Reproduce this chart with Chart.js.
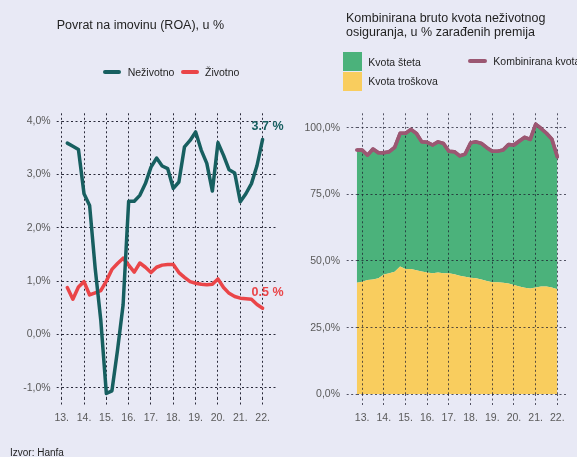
<!DOCTYPE html>
<html>
<head>
<meta charset="utf-8">
<script src="https://cdn.jsdelivr.net/npm/chart.js@4.4.1/dist/chart.umd.min.js"></script>
<style>
  html, body { margin: 0; padding: 0; background: #e8e9f5; }
  #wrap { position: relative; width: 577px; height: 457px; overflow: hidden; background: #e8e9f5;
          font-family: "Liberation Sans", Arial, sans-serif; color: #1f1f1f; }
  canvas { position: absolute; left: 0; top: 0; }
  .t { position: absolute; white-space: nowrap; }
  .title { font-size: 12.5px; line-height: 14px; }
  .leg { font-size: 10.5px; line-height: 12px; }
  .sw { position: absolute; }
</style>
</head>
<body>
<div id="wrap">
  <canvas id="c1" width="577" height="457"></canvas>
  <canvas id="c2" width="577" height="457"></canvas>

  <div class="t title" style="left:56.7px; top:18px;">Povrat na imovinu (ROA), u %</div>
  <div class="sw" style="left:102.7px; top:69.7px; width:18px; height:4px; border-radius:2px; background:#175f60;"></div>
  <div class="t leg" style="left:127.7px; top:65.7px;">Neživotno</div>
  <div class="sw" style="left:180.5px; top:69.7px; width:18px; height:4px; border-radius:2px; background:#ea4548;"></div>
  <div class="t leg" style="left:205px; top:65.7px;">Životno</div>

  <div class="t title" style="left:346px; top:11.3px;">Kombinirana bruto kvota neživotnog<br>osiguranja, u % zarađenih premija</div>
  <div class="sw" style="left:342.7px; top:51.7px; width:19px; height:19px; background:#4bb27b;"></div>
  <div class="t leg" style="left:368.3px; top:55.7px;">Kvota šteta</div>
  <div class="sw" style="left:342.7px; top:71.7px; width:19px; height:19px; background:#f9cd5e;"></div>
  <div class="t leg" style="left:368.3px; top:75px;">Kvota troškova</div>
  <div class="sw" style="left:467.7px; top:59px; width:19px; height:4px; border-radius:2px; background:#9b5772;"></div>
  <div class="t leg" style="left:493.3px; top:55px;">Kombinirana kvota</div>

  <div class="t" style="left:10px; top:447px; font-size:10px; line-height:12px;">Izvor: Hanfa</div>
</div>

<script>
// ---------- DATA ----------
const roaPeriods = ['2013Q2','2013Q3','2013Q4','2014Q1','2014Q2','2014Q3','2014Q4','2015Q1','2015Q2','2015Q3','2015Q4',
  '2016Q1','2016Q2','2016Q3','2016Q4','2017Q1','2017Q2','2017Q3','2017Q4','2018Q1','2018Q2','2018Q3','2018Q4',
  '2019Q1','2019Q2','2019Q3','2019Q4','2020Q1','2020Q2','2020Q3','2020Q4','2021Q1','2021Q2','2021Q3','2021Q4','2022Q1'];
const roaNonLife = [3.59,3.53,3.47,2.64,2.42,1.24,0.27,-1.11,-1.06,-0.30,0.55,2.50,2.50,2.61,2.83,3.14,3.31,3.16,3.11,2.74,
  2.86,3.52,3.64,3.80,3.46,3.21,2.69,3.60,3.36,3.09,3.03,2.49,2.64,2.83,3.17,3.66];
const roaLife = [0.88,0.66,0.89,0.99,0.74,0.78,0.82,1.00,1.22,1.33,1.43,1.30,1.17,1.34,1.26,1.16,1.26,1.30,1.31,1.31,
  1.16,1.07,0.99,0.96,0.94,0.93,0.94,1.04,0.88,0.77,0.71,0.68,0.67,0.66,0.56,0.49];
const roaYTicks = [-1, 0, 1, 2, 3, 4];

const ratioPeriods = ['2012Q4','2013Q1','2013Q2','2013Q3','2013Q4','2014Q1','2014Q2','2014Q3','2014Q4','2015Q1','2015Q2',
  '2015Q3','2015Q4','2016Q1','2016Q2','2016Q3','2016Q4','2017Q1','2017Q2','2017Q3','2017Q4','2018Q1','2018Q2','2018Q3',
  '2018Q4','2019Q1','2019Q2','2019Q3','2019Q4','2020Q1','2020Q2','2020Q3','2020Q4','2021Q1','2021Q2','2021Q3','2021Q4','2022Q1'];
const expenseRatio = [41.8,42.2,42.9,43.1,43.5,44.9,45.4,46.0,47.9,47.0,47.0,46.5,46.1,45.7,45.4,45.7,45.4,45.4,45.0,44.5,
  44.1,43.7,43.5,43.1,42.5,42.0,42.0,41.8,41.6,41.0,40.4,40.0,39.7,40.1,40.4,40.4,40.1,39.4];
const lossRatio = [49.8,49.4,46.8,48.9,47.1,45.7,45.6,46.6,50.0,50.9,52.4,51.4,48.6,48.8,48.1,49.0,48.7,45.8,46.0,44.9,
  46.0,50.6,51.2,51.0,50.0,49.2,49.2,49.8,52.1,52.5,54.6,56.4,55.9,61.2,59.3,57.5,55.6,49.7];
const combinedRatio = [91.6,91.6,89.7,92.0,90.6,90.6,91.0,92.6,97.9,97.9,99.4,97.9,94.7,94.5,93.5,94.7,94.1,91.2,91.0,89.4,
  90.1,94.3,94.7,94.1,92.5,91.2,91.2,91.6,93.7,93.5,95.0,96.4,95.6,101.3,99.7,97.9,95.7,89.1];
const ratioYTicks = [0, 25, 50, 75, 100];
const yearTicks = [13, 14, 15, 16, 17, 18, 19, 20, 21, 22];

// ---------- HELPERS ----------
const periodToX = p => (parseInt(p.slice(0, 4), 10) - 2000) + (parseInt(p.slice(5), 10) - 1) / 4;
const pts = (periods, vals) => periods.map((p, i) => ({ x: periodToX(p), y: vals[i] }));
const fmtPct = v => v.toFixed(1).replace('.', ',') + '%';
const keepTicks = list => scale => {
  scale.ticks = list.map(v => ({ value: v }));
};
const FONT = '"Liberation Sans", Arial, sans-serif';
const tickFont = { family: FONT, size: 10.5 };
const TICK_COLOR = '#5a5a5a';

const endLabels = {
  id: 'endLabels',
  afterDatasetsDraw(chart, args, opts) {
    const ctx = chart.ctx;
    chart.data.datasets.forEach((ds, i) => {
      const cfg = (opts.items || {})[i];
      if (!cfg) return;
      const meta = chart.getDatasetMeta(i);
      const pt = meta.data[meta.data.length - 1];
      const v = ds.data[ds.data.length - 1].y;
      ctx.save();
      ctx.font = 'bold 12.5px ' + FONT;
      ctx.fillStyle = ds.borderColor;
      ctx.textAlign = 'left';
      ctx.textBaseline = 'middle';
      ctx.fillText(v.toFixed(1) + ' %', pt.x + cfg.dx, pt.y + cfg.dy);
      ctx.restore();
    });
  }
};

// redraw the combined-ratio line above the grid that sits on top of the areas
const lineOnTop = {
  id: 'lineOnTop',
  afterDraw(chart) {
    const meta = chart.getDatasetMeta(0);
    if (meta && meta.dataset) {
      chart.ctx.save();
      meta.dataset.draw(chart.ctx, chart.chartArea);
      chart.ctx.restore();
    }
  }
};

Chart.defaults.font.family = FONT;
Chart.defaults.animation = false;

// ---------- LEFT CHART: ROA ----------
new Chart(document.getElementById('c1'), {
  type: 'line',
  data: {
    datasets: [
      { label: 'Neživotno', data: pts(roaPeriods, roaNonLife), borderColor: '#175f60', borderWidth: 3.5,
        pointRadius: 0, tension: 0, borderJoinStyle: 'round', borderCapStyle: 'round' },
      { label: 'Životno', data: pts(roaPeriods, roaLife), borderColor: '#ea4548', borderWidth: 3.5,
        pointRadius: 0, tension: 0, borderJoinStyle: 'round', borderCapStyle: 'round' }
    ]
  },
  plugins: [endLabels],
  options: {
    responsive: false,
    animation: false,
    layout: { padding: { left: 0, right: 301, top: 113.3, bottom: 0 } },
    plugins: {
      legend: { display: false }, tooltip: { enabled: false }, title: { display: false },
      endLabels: { items: { 0: { dx: -11, dy: -13.3 }, 1: { dx: -11, dy: -15.6 } } }
    },
    scales: {
      x: {
        type: 'linear', min: 13, max: 22.6,
        afterBuildTicks: keepTicks(yearTicks),
        afterFit: s => { s.height = 58.7; },
        ticks: { callback: v => v + '.', color: TICK_COLOR, font: tickFont, padding: 6, maxRotation: 0, autoSkip: false },
        grid: { color: '#2a2a3a', lineWidth: 1, tickLength: 8, tickBorderDash: [2, 2.5], drawTicks: true },
        border: { display: false, dash: [2, 2.5] }
      },
      y: {
        type: 'linear', min: -1.2, max: 4.15,
        afterBuildTicks: keepTicks(roaYTicks),
        afterFit: s => { s.width = 61.7; },
        ticks: { callback: v => fmtPct(v), color: TICK_COLOR, font: tickFont, padding: 6 },
        grid: { color: '#2a2a3a', lineWidth: 1, tickLength: 5, tickBorderDash: [2, 2.5] },
        border: { display: false, dash: [2, 2.5] }
      }
    }
  }
});

// ---------- RIGHT CHART: COMBINED RATIO ----------
new Chart(document.getElementById('c2'), {
  type: 'line',
  data: {
    datasets: [
      { label: 'Kombinirana kvota', data: pts(ratioPeriods, combinedRatio), stack: 'total', borderColor: '#9b5772',
        borderWidth: 3.5, pointRadius: 0, tension: 0, fill: false, borderJoinStyle: 'round', borderCapStyle: 'round' },
      { label: 'Kvota troškova', data: pts(ratioPeriods, expenseRatio), stack: 'parts', borderWidth: 0,
        borderColor: 'rgba(0,0,0,0)', backgroundColor: '#f9cd5e', pointRadius: 0, tension: 0, fill: 'origin' },
      { label: 'Kvota šteta', data: pts(ratioPeriods, lossRatio), stack: 'parts', borderWidth: 0,
        borderColor: 'rgba(0,0,0,0)', backgroundColor: '#4bb27b', pointRadius: 0, tension: 0, fill: '-1' }
    ]
  },
  plugins: [lineOnTop],
  options: {
    responsive: false,
    animation: false,
    layout: { padding: { left: 296.7, right: 11, top: 113.3, bottom: 0 } },
    plugins: { legend: { display: false }, tooltip: { enabled: false }, title: { display: false } },
    scales: {
      x: {
        type: 'linear', min: 12.75, max: 22.4,
        afterBuildTicks: keepTicks(yearTicks),
        afterFit: s => { s.height = 62.7; },
        ticks: { callback: v => v + '.', color: TICK_COLOR, font: tickFont, padding: 5.5, maxRotation: 0, autoSkip: false },
        grid: { z: 1, color: 'rgba(25,25,45,0.72)', lineWidth: 1, tickLength: 12.4, tickBorderDash: [2, 2.5] },
        border: { display: false, dash: [2, 2.5] }
      },
      y: {
        type: 'linear', min: 0, max: 105.4, stacked: true,
        afterBuildTicks: keepTicks(ratioYTicks),
        afterFit: s => { s.width = 60; },
        ticks: { callback: v => fmtPct(v), color: TICK_COLOR, font: tickFont, padding: 6.7 },
        grid: { z: 1, color: 'rgba(25,25,45,0.72)', lineWidth: 1, tickLength: 10, tickBorderDash: [2, 2.5] },
        border: { display: false, dash: [2, 2.5] }
      }
    }
  }
});
</script>
</body>
</html>
